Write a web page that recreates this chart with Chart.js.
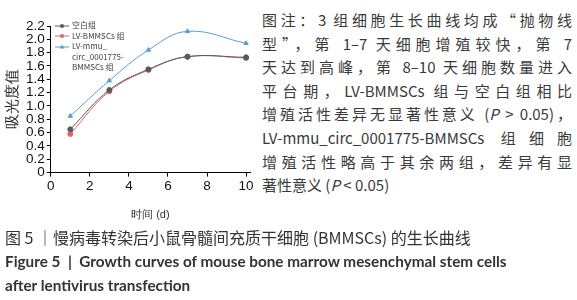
<!DOCTYPE html>
<html>
<head>
<meta charset="utf-8">
<script src="https://cdn.jsdelivr.net/npm/chart.js@4"></script>
<style>
  body { margin: 0; width: 577px; height: 300px; background: #fff; position: relative; overflow: hidden; font-family: "Noto Sans CJK SC", sans-serif; }
  #wrap { position: absolute; left: 0; top: 0; width: 262px; height: 226px; }
  #legend { position: absolute; left: 55px; top: 20px; font-size: 8px; color: #444; line-height: 10.5px; }
  #legend .row { display: flex; align-items: flex-start; }
  #legend svg { flex: none; margin-top: 1.5px; margin-right: 3px; }
  #note { position: absolute; left: 262px; top: 8px; width: 310px; font-size: 15px; line-height: 23.6px; color: #3a3a3a; }
  #note div { text-align: justify; text-align-last: justify; white-space: nowrap; }
  #note div.last { text-align-last: left; }
  #cap { position: absolute; left: 5px; top: 225px; color: #333; }
  #cap .zh { font-size: 16px; line-height: 24px; }
  #cap .en { font-family: Lato, sans-serif; font-weight: 700; font-size: 15.3px; line-height: 24px; }
</style>
</head>
<body>
<div id="wrap"><canvas id="myChart"></canvas></div>
<div id="legend"></div>
<div id="note">
  <div>图注：3 组细胞生长曲线均成“抛物线</div>
  <div>型”，第 1–7 天细胞增殖较快，第 7</div>
  <div>天达到高峰，第 8–10 天细胞数量进入</div>
  <div>平台期，LV-BMMSCs 组与空白组相比</div>
  <div>增殖活性差异无显著性意义 (<i>P</i> &gt; 0.05)，</div>
  <div>LV-mmu_circ_0001775-BMMSCs 组细胞</div>
  <div>增殖活性略高于其余两组，差异有显</div>
  <div class="last">著性意义 (<i>P</i> &lt; 0.05)</div>
</div>
<div id="cap">
  <div class="zh">图 5 ｜慢病毒转染后小鼠骨髓间充质干细胞 (BMMSCs) 的生长曲线</div>
  <div class="en">Figure 5 &nbsp;|&nbsp; Growth curves of mouse bone marrow mesenchymal stem cells</div>
  <div class="en">after lentivirus transfection</div>
</div>
<script>
// 생장곡선 데이터
const days = [1, 3, 5, 7, 10];
const blankGroup = [0.65, 1.24, 1.55, 1.74, 1.73];
const lvGroup = [0.58, 1.22, 1.54, 1.74, 1.72];
const circGroup = [0.85, 1.38, 1.84, 2.12, 1.94];
const seriesNames = ['空白组', 'LV-BMMSCs 组', 'LV-mmu_\ncirc_0001775-\nBMMSCs 组'];
const yTicks = [0, 0.2, 0.4, 0.6, 0.8, 1.0, 1.2, 1.4, 1.6, 1.8, 2.0, 2.2];
const xTicks = [0, 2, 4, 6, 8, 10];

const colors = ['#5a5a5a', '#e06666', '#5b9bd5'];
const markers = ['circle', 'circle', 'triangle'];
const allSeries = [blankGroup, lvGroup, circGroup];

const ctx = document.getElementById('myChart');
const myChart = new Chart(ctx, {
    type: 'line',
    data: {
        datasets: allSeries.map((vals, i) => ({
            label: seriesNames[i],
            data: days.map((d, j) => ({ x: d, y: vals[j] })),
            borderColor: colors[i],
            backgroundColor: colors[i],
            borderWidth: 1,
            pointStyle: markers[i],
            pointRadius: 2.5,
            tension: 0.4
        }))
    },
    options: {
        responsive: true,
        maintainAspectRatio: false,
        animation: false,
        layout: { padding: { top: 26, right: 12, left: 0 } },
        scales: {
            x: {
                type: 'linear',
                min: 0,
                max: 10.2,
                afterBuildTicks: s => { s.ticks = xTicks.map(v => ({ value: v })); },
                grid: { drawOnChartArea: false, color: '#000', tickLength: 4 },
                border: { color: '#000' },
                ticks: { color: '#111', font: { size: 13.5 }, padding: 2, autoSkip: false, maxRotation: 0 },
                title: { display: true, text: '时间 (d)', color: '#333', font: { size: 11 }, padding: { top: 12 } }
            },
            y: {
                min: 0,
                max: 2.2,
                afterBuildTicks: s => { s.ticks = yTicks.map(v => ({ value: v })); },
                grid: { drawOnChartArea: false, color: '#000', tickLength: 4 },
                border: { color: '#000' },
                ticks: { color: '#111', font: { size: 13.5 }, padding: 2, autoSkip: false,
                    callback: v => v === 0 ? '0' : v.toFixed(1) },
                title: { display: true, text: '吸光度值', color: '#222', font: { size: 15 }, padding: { bottom: 2 } }
            }
        },
        plugins: {
            legend: { display: false },
            tooltip: { enabled: false }
        }
    }
});

// 범례(legend)
const legend = document.getElementById('legend');
seriesNames.forEach((name, i) => {
    const row = document.createElement('div');
    row.className = 'row';
    const mark = markers[i] === 'triangle'
        ? '<polygon points="7,1.5 9.5,5.5 4.5,5.5" fill="' + colors[i] + '"/>'
        : '<circle cx="7" cy="4" r="2" fill="' + colors[i] + '"/>';
    row.innerHTML = '<svg width="14" height="8"><line x1="0" y1="4" x2="14" y2="4" stroke="' + colors[i] + '" stroke-width="1"/>' + mark + '</svg>' +
        '<span>' + name.replace(/\n/g, '<br>') + '</span>';
    legend.appendChild(row);
});
</script>
</body>
</html>
